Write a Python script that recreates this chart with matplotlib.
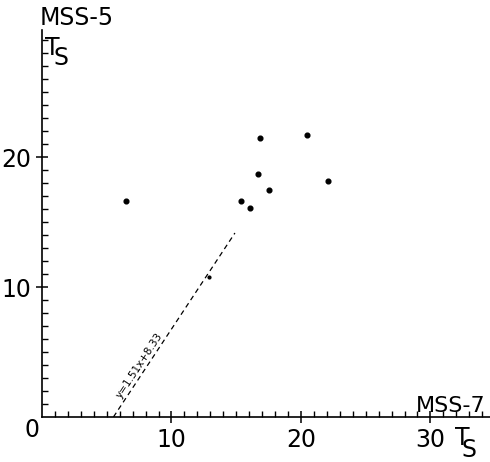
import matplotlib
matplotlib.use("Agg")
import matplotlib.pyplot as plt
import numpy as np

# Data
mss7 = [6.5, 16.8, 20.5, 16.7, 17.5, 22.1, 15.4, 16.1]
mss5 = [16.6, 21.5, 21.7, 18.7, 17.5, 18.2, 16.6, 16.1]
small_x = [12.9]
small_y = [10.8]
slope, intercept = 1.51, -8.33
line_x = [5.52, 14.9]
xticks = [10, 20, 30]
yticks = [10, 20]
fit_label = "y=1.51x+8.33"

W, H = 490, 462
fig = plt.figure(figsize=(W / 100, H / 100), dpi=100)
ax = fig.add_axes([42 / W, (H - 417) / H, 448 / W, 387 / H])
ax.set_xlim(0, 34.6)
ax.set_ylim(0, 29.8)

for s in ["top", "right"]:
    ax.spines[s].set_visible(False)
for s in ["left", "bottom"]:
    ax.spines[s].set_linewidth(1.2)
    ax.spines[s].set_color("black")

ax.plot(mss7, mss5, "o", color="black", markersize=3.4, clip_on=False)
ax.plot(small_x, small_y, "o", color="black", markersize=2.0)

lx = np.array(line_x)
ax.plot(lx, slope * lx + intercept, color="black", lw=0.9, dashes=(4, 3))

ax.text(7.55, 4.0, fit_label, rotation=56.6, rotation_mode="anchor",
        ha="center", va="center", fontsize=7.5, family="DejaVu Sans")

ax.set_xticks(xticks)
ax.set_xticklabels([str(v) for v in xticks])
ax.set_yticks(yticks)
ax.set_yticklabels([str(v) for v in yticks])
ax.set_xticks(np.arange(1, 35), minor=True)
ax.set_yticks(np.arange(1, 30), minor=True)
ax.tick_params(which="major", direction="inout", length=8, width=1.1,
               labelsize=17, pad=4)
ax.tick_params(which="minor", direction="in", length=4, width=1.0)

def ftext(px, py, s, size=17, **kw):
    fig.text(px / W, 1 - py / H, s, fontsize=size, color="black", **kw)

# Corner labels
ftext(40, 25, "MSS-5", ha="left", va="baseline")
ftext(45, 55, "T", ha="left", va="baseline")
ftext(53, 65, "S", ha="left", va="baseline")
ftext(416, 412, "MSS-7", size=16, ha="left", va="baseline")
ftext(455, 445, "T", ha="left", va="baseline")
ftext(461, 457, "S", ha="left", va="baseline")
ftext(32, 430, "0", ha="center", va="center")

fig.savefig("out.png", dpi=100)
